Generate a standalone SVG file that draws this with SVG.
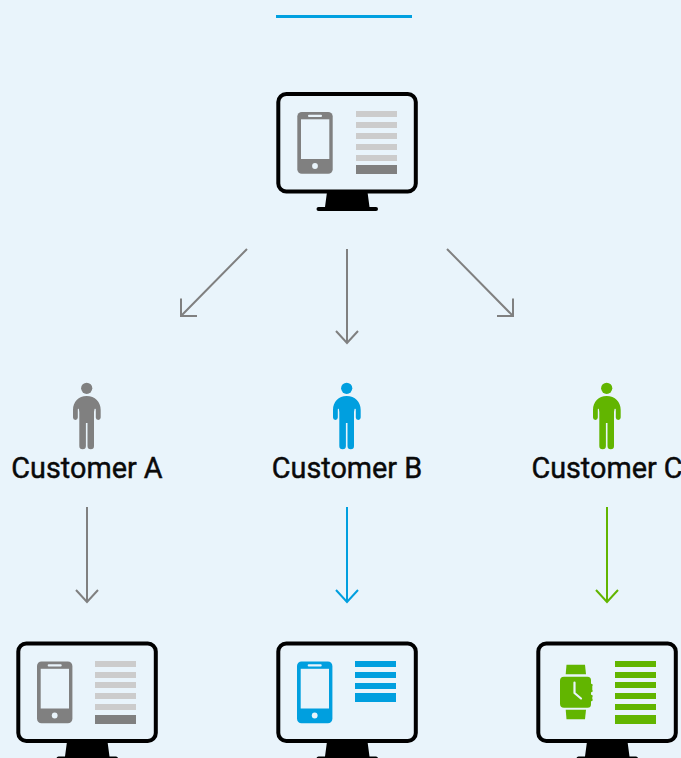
<svg xmlns="http://www.w3.org/2000/svg" xmlns:xlink="http://www.w3.org/1999/xlink" width="681" height="758" viewBox="0 0 681 758">
<style>
.lbl{font-family:Roboto,"Liberation Sans",sans-serif;font-weight:400;font-size:28.800px;fill:#0a0a0a;stroke:#0a0a0a;stroke-width:.45;text-anchor:middle}
.ar{fill:none;stroke-width:2}
.g{stroke:#808080}.b{stroke:#009fdf}.v{stroke:#62b500}
.fg{fill:#808080}.fb{fill:#009fdf}.fv{fill:#62b500}.fl{fill:#cccccc}
.bg{fill:#e9f4fb}
</style>
<defs>
<g id="monitor">
<path d="M327 192L325 207H318.500A2 2 0 0 0 318.500 211H376A2 2 0 0 0 376 207H369.500L367.500 192Z" fill="#000"/>
<rect x="278.300" y="94" width="137.500" height="97.500" rx="8" fill="#e9f4fb" stroke="#000" stroke-width="4"/>
</g>
<g id="phone">
<rect x="297.300" y="112" width="35.400" height="61.700" rx="4.500"/>
<rect class="bg" x="301" y="119.300" width="28.300" height="39.700"/>
<rect class="bg" x="308" y="114.800" width="14" height="2.200" rx="1"/>
<circle class="bg" cx="315" cy="166" r="2.900"/>
</g>
<g id="person">
<circle cx="86.700" cy="388.300" r="5.600"/>
<path d="M86.700 396C78.500 396 73 402 73 410V417.500A2.200 2.200 0 0 0 77.800 417.500V409.500C77.800 408.800 78.600 408.500 78.900 409.300L79.300 412V446A3.200 3.200 0 0 0 85.900 446V423H87.500V446A3.200 3.200 0 0 0 94 446V412L94.500 409.300C94.900 408.500 95.800 408.800 95.800 409.500V417.500A2.200 2.200 0 0 0 100.700 417.500V410C100.700 402 95 396 86.700 396Z"/>
</g>
</defs>
<rect width="681" height="758" fill="#e9f4fb"/>
<rect x="276" y="15" width="136" height="3" fill="#00a0e0"/>
<g id="connectors">
<path class="ar g" d="M247 249L181 316M181 298.500V316H197"/>
<path class="ar g" d="M347 249V343M336 331L347 343L358 331"/>
<path class="ar g" d="M447 249L513 316M513 298.500V316H497"/>
<path class="ar g" d="M87 507V602M76 590L87 602L98 590"/>
<path class="ar b" d="M347 507V602M336 590L347 602L358 590"/>
<path class="ar v" d="M607 507V602M596 590L607 602L618 590"/>
</g>
<g id="source-screen">
<use href="#monitor"/>
<use href="#phone" class="fg"/>
<g class="fl"><rect x="356" y="111" width="41" height="6"/><rect x="356" y="122" width="41" height="6"/><rect x="356" y="133" width="41" height="6"/><rect x="356" y="144" width="41" height="6"/><rect x="356" y="155" width="41" height="6"/></g>
<rect class="fg" x="356" y="165" width="41" height="9"/>
</g>
<g id="customer-a" class="fg"><use href="#person"/><text class="lbl" x="87" y="477.500">Customer A</text></g>
<g id="customer-b" class="fb"><use href="#person" x="260"/><text class="lbl" x="347" y="477.500">Customer B</text></g>
<g id="customer-c" class="fv"><use href="#person" x="520"/><text class="lbl" x="607" y="477.500">Customer C</text></g>
<g id="screen-a">
<use href="#monitor" x="-260" y="549.500"/>
<use href="#phone" class="fg" x="-260.300" y="549.500"/>
<g class="fl"><rect x="95" y="661" width="41" height="6"/><rect x="95" y="672" width="41" height="6"/><rect x="95" y="682" width="41" height="6"/><rect x="95" y="693" width="41" height="6"/><rect x="95" y="704" width="41" height="6"/></g>
<rect class="fg" x="95" y="715" width="41" height="9"/>
</g>
<g id="screen-b">
<use href="#monitor" y="549.500"/>
<use href="#phone" class="fb" x="-0.300" y="549.500"/>
<g class="fb"><rect x="355" y="661" width="41" height="6"/><rect x="355" y="672" width="41" height="6"/><rect x="355" y="683" width="41" height="6"/><rect x="355" y="693" width="41" height="9"/></g>
</g>
<g id="screen-c">
<use href="#monitor" x="260" y="549.500"/>
<g class="fv">
<path d="M566.500 664.700H585L586 674.300H565.700Z"/>
<path d="M565.700 709.700H586L585 719.300H566.500Z"/>
<path d="M564 676.700H587.500A3.500 3.500 0 0 1 591 680.200V684A1.200 1.200 0 0 1 592.300 686V690A1.200 1.200 0 0 1 591 692V695A1.200 1.200 0 0 1 592.300 697V699A1.200 1.200 0 0 1 591 701V704.200A3.500 3.500 0 0 1 587.500 707.700H564A4 4 0 0 1 560 703.700V680.700A4 4 0 0 1 564 676.700Z"/>
</g>
<path d="M574.500 682.500V693L581 698.500" fill="none" stroke="#e9f4fb" stroke-width="2.200" stroke-linecap="round" stroke-linejoin="round"/>
<g class="fv"><rect x="615" y="661" width="41" height="6"/><rect x="615" y="672" width="41" height="6"/><rect x="615" y="682" width="41" height="6"/><rect x="615" y="693" width="41" height="6"/><rect x="615" y="704" width="41" height="6"/><rect x="615" y="715" width="41" height="9"/></g>
</g>
</svg>
